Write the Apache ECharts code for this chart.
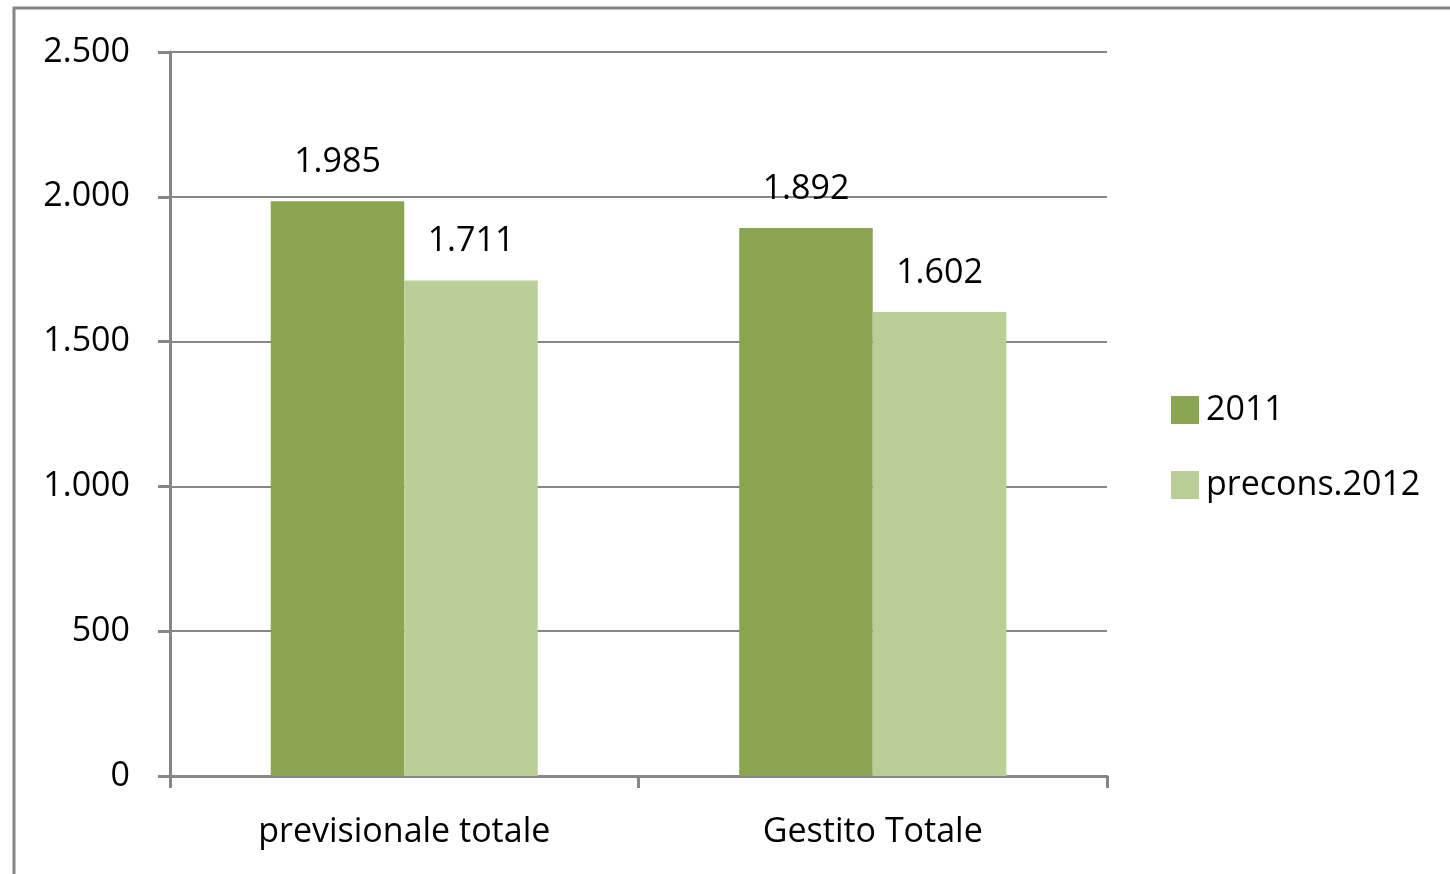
<!DOCTYPE html>
<html><head><meta charset="utf-8">
<script src="https://cdn.jsdelivr.net/npm/echarts@6/dist/echarts.min.js"></script>
<style>html,body{margin:0;padding:0;background:#fff}#c{width:1450px;height:874px}</style>
</head><body><div id="c"></div>
<script>
const categories = ['previsionale totale', 'Gestito Totale'];
const seriesNames = ['2011', 'precons.2012'];
const values2011 = [1985, 1892];
const values2012 = [1711, 1602];
const colors = ['#8AA550', '#BACF97'];
const FONT = 'Open Sans';
function fmt(v){ return String(v).replace(/\B(?=(\d{3})+(?!\d))/g, '.'); }
const chart = echarts.init(document.getElementById('c'));
const labelStyle = {show:true, position:'top', distance:19, fontFamily:FONT, fontSize:34, lineHeight:40, color:'#000', formatter:p=>fmt(p.value)};
chart.setOption({
  animation:false,
  graphic:[{type:'rect', shape:{x:14, y:8, width:1500, height:1000}, style:{fill:'none', stroke:'#868686', lineWidth:3}, silent:true}],
  grid:{left:170, right:343, top:52, bottom:98},
  legend:{orient:'vertical', left:1166, top:385, itemWidth:28, itemHeight:28, itemGap:35, icon:'rect',
    textStyle:{fontFamily:FONT, fontSize:34, lineHeight:40, color:'#000', padding:[0,0,0,2]},
    data:seriesNames},
  xAxis:{type:'category', data:categories,
    axisLine:{lineStyle:{color:'#868686', width:3}},
    axisTick:{show:true, length:12, lineStyle:{color:'#868686', width:3}},
    axisLabel:{fontFamily:FONT, fontSize:34, lineHeight:40, color:'#000', margin:36}},
  yAxis:{type:'value', min:0, max:2500, interval:500,
    axisLine:{show:true, lineStyle:{color:'#868686', width:3}},
    axisTick:{show:true, length:12, lineStyle:{color:'#868686', width:3}},
    splitLine:{lineStyle:{color:'#868686', width:2}},
    axisLabel:{fontFamily:FONT, fontSize:34, color:'#000', margin:40, padding:[8,0,0,0], formatter:v=>fmt(v)}},
  series:[
    {name:seriesNames[0], type:'bar', data:values2011, itemStyle:{color:colors[0]}, barGap:'0%', barCategoryGap:'43%', label:labelStyle},
    {name:seriesNames[1], type:'bar', data:values2012, itemStyle:{color:colors[1]}, barGap:'0%', barCategoryGap:'43%', label:labelStyle}
  ]
});
</script></body></html>
